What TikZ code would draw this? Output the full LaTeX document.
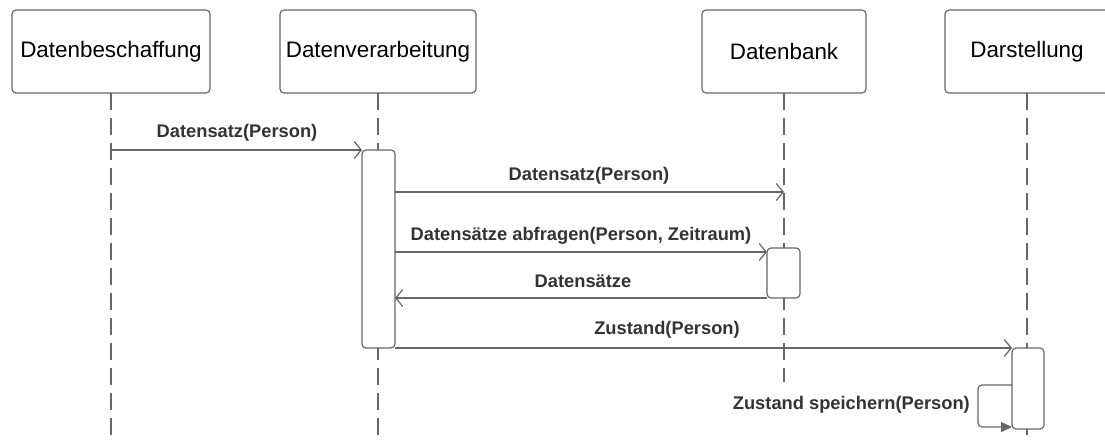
\documentclass[tikz,border=0pt]{standalone}
\usepackage{fontspec}
\setmainfont{Liberation Sans}
\usetikzlibrary{arrows.meta}
\definecolor{linegray}{HTML}{666666}
\definecolor{textgray}{HTML}{333333}
\tikzset{
  participant/.style={draw=linegray, line width=1.2pt, rounded corners=4pt, fill=white},
  lifeline/.style={draw=linegray, line width=1.2pt, dash pattern=on 17pt off 8pt},
  activation/.style={draw=linegray, line width=1.2pt, rounded corners=4pt, fill=white},
  msg/.style={draw=linegray, line width=1.2pt, -{Straight Barb[length=7pt,width=17pt,line width=1.2pt]}},
  selfmsg/.style={draw=linegray, line width=1.2pt, rounded corners=4pt, -{Triangle[length=11pt,width=10pt]}},
  plabel/.style={font=\fontsize{22.4}{26}\selectfont, text=black},
  mlabel/.style={font=\bfseries\fontsize{18.3}{22}\selectfont, text=textgray, inner sep=0pt},
}
\begin{document}
\begin{tikzpicture}[x=1pt, y=-1pt]
\useasboundingbox (0,0) rectangle (1105,443);
\clip (0,0) rectangle (1105,443);

% lifelines
\coordinate (l1top) at (111,93);  \coordinate (l1bot) at (111,443);
\coordinate (l2top) at (378,93);  \coordinate (l2bot) at (378,443);
\coordinate (l3top) at (784,93);  \coordinate (l3bot) at (784,382);
\coordinate (l4top) at (1027,93); \coordinate (l4bot) at (1027,443);
\draw[lifeline] (l1top) -- (l1bot);
\draw[lifeline] (l2top) -- (l2bot);
\draw[lifeline] (l3top) -- (l3bot);
\draw[lifeline] (l4top) -- (l4bot);

% participants
\draw[participant] (12,10) rectangle node[plabel] (p1) {Datenbeschaffung} (210,93);
\draw[participant] (280,10) rectangle node[plabel] (p2) {Datenverarbeitung} (476,93);
\draw[participant] (702,10) rectangle node[plabel] (p3) {Datenbank} (866,93);
\draw[participant] (945,10) rectangle node[plabel] (p4) {Darstellung} (1109,93);

% activation bars
\draw[activation] (362,150) rectangle (395,348);
\draw[activation] (767,248) rectangle (800,298);
\draw[activation] (1012,348) rectangle (1044,429);
\coordinate (a1in)  at (362,150);
\coordinate (a1o2)  at (395,192);
\coordinate (a1o3)  at (395,252);
\coordinate (a1i4)  at (395,298);
\coordinate (a1o5)  at (395,348);
\coordinate (l3m2)  at (784,192);
\coordinate (a2in)  at (767,252);
\coordinate (a2out) at (767,298);
\coordinate (a3in)  at (1012,348);
\coordinate (a3s)   at (1012,385);
\coordinate (a3e)   at (1012,427);
\coordinate (l1m1)  at (111,150);

% messages
\draw[msg] (l1m1) -- (a1in);
\node[mlabel] (m1) at (237,133) {Datensatz(Person)};
\draw[msg] (a1o2) -- (l3m2);
\node[mlabel] (m2) at (589,176) {Datensatz(Person)};
\draw[msg] (a1o3) -- (a2in);
\node[mlabel] (m3) at (581,236) {Datensätze abfragen(Person, Zeitraum)};
\draw[msg] (a2out) -- (a1i4);
\node[mlabel] (m4) at (583,281) {Datensätze};
\draw[msg] (a1o5) -- (a3in);
\node[mlabel] (m5) at (667,330) {Zustand(Person)};
\draw[selfmsg] (a3s) -- (978,385) -- (978,427) -- (a3e);
\node[mlabel, anchor=east] (m6) at (970,405) {Zustand speichern(Person)};
\end{tikzpicture}
\end{document}
